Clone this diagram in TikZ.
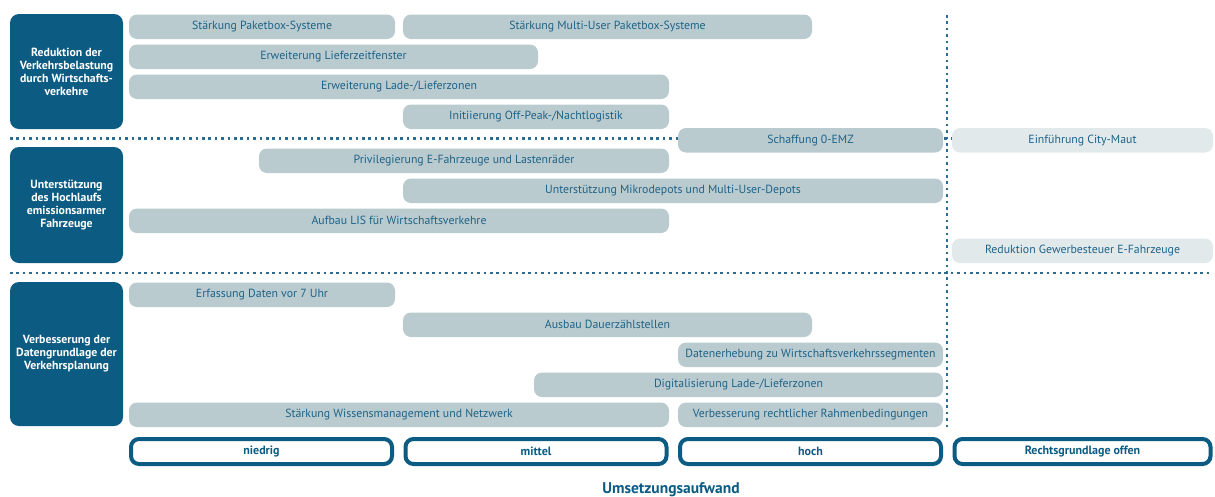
\documentclass[tikz,border=0pt]{standalone}
\usepackage{fontspec}
\setmainfont{PT Sans}
\definecolor{dblue}{HTML}{0B5B82}
\definecolor{bargray}{HTML}{B9CBCF}
\definecolor{barlight}{HTML}{E1E9EB}
\definecolor{bartext}{HTML}{1F6388}
\definecolor{dotc}{HTML}{2D6C91}
\tikzset{
  barbox/.style={fill=bargray, rounded corners=8pt, inner sep=0pt, minimum height=24.5pt, text=bartext, font=\fontsize{11.8}{13}\selectfont},
  lightbox/.style={barbox, fill=barlight},
  catbox/.style={fill=dblue, rounded corners=9pt, inner sep=0pt, minimum width=113pt, text=white, align=center, font=\fontsize{11.8}{13}\selectfont\bfseries},
  levelbox/.style={draw=dblue, line width=4pt, rounded corners=8pt, inner sep=0pt, minimum height=25pt, text=dblue, font=\fontsize{12}{14}\selectfont\bfseries},
  sepline/.style={dotc, line width=2.2pt, dash pattern=on 2.6pt off 3.8pt},
}
\newcommand\mbar[6][barbox]{\node[#1, minimum width={#4-#3}] (#2) at ({(#3+#4)/2},{#5+12.75}) {#6};}
\begin{document}
\begin{tikzpicture}[x=1pt,y=-1pt]
\useasboundingbox (0,0) rectangle (1215,496);
% separator lines
\coordinate (h1a) at (10,138.5); \coordinate (h1b) at (1213,138.5);
\coordinate (h2a) at (10,273); \coordinate (h2b) at (1213,273);
\coordinate (va) at (947,15); \coordinate (vb) at (947,430);
\draw[sepline] (h1a) -- (h1b);
\draw[sepline] (h2a) -- (h2b);
\draw[sepline] (va) -- (vb);
% categories
\node[catbox, minimum height=115pt] (c1) at (66.5,71.5) {Reduktion der\\Verkehrsbelastung\\durch Wirtschafts-\\verkehre};
\node[catbox, minimum height=116pt] (c2) at (66.5,205) {Unterstützung\\des Hochlaufs\\emissionsarmer\\Fahrzeuge};
\node[catbox, minimum height=144pt] (c3) at (66.5,354) {Verbesserung der\\Datengrundlage der\\Verkehrsplanung};
% bars
\mbar{b1}{129}{395}{14}{Stärkung Paketbox-Systeme}
\mbar{b2}{403}{812}{14}{Stärkung Multi-User Paketbox-Systeme}
\mbar{b3}{129}{538}{44}{Erweiterung Lieferzeitfenster}
\mbar{b4}{129}{669}{74}{Erweiterung Lade-/Lieferzonen}
\mbar{b5}{403}{669}{104}{Initiierung Off-Peak-/Nachtlogistik}
\mbar{b6}{678}{943}{127.5}{Schaffung 0-EMZ}
\mbar[lightbox]{b7}{952}{1213}{127.5}{Einführung City-Maut}
\mbar{b8}{259}{669}{148}{Privilegierung E-Fahrzeuge und Lastenräder}
\mbar{b9}{403}{943}{178}{Unterstützung Mikrodepots und Multi-User-Depots}
\mbar{b10}{129}{669}{208}{Aufbau LIS für Wirtschaftsverkehre}
\mbar[lightbox]{b11}{952}{1213}{238}{Reduktion Gewerbesteuer E-Fahrzeuge}
\mbar{b12}{129}{395}{282}{Erfassung Daten vor 7 Uhr}
\mbar{b13}{403}{812}{312}{Ausbau Dauerzählstellen}
\mbar{b14}{678}{943}{342}{Datenerhebung zu Wirtschaftsverkehrssegmenten}
\mbar{b15}{534}{943}{372}{Digitalisierung Lade-/Lieferzonen}
\mbar{b16}{129}{669}{402}{Stärkung Wissensmanagement und Netzwerk}
\mbar{b17}{678}{943}{402}{Verbesserung rechtlicher Rahmenbedingungen}
% levels
\node[levelbox, minimum width=261pt] (l1) at (261.5,451.5) {niedrig};
\node[levelbox, minimum width=261pt] (l2) at (536,451.5) {mittel};
\node[levelbox, minimum width=261pt] (l3) at (810.5,451.5) {hoch};
\node[levelbox, minimum width=256pt] (l4) at (1082.5,451.5) {Rechtsgrundlage offen};
\node[text=dblue, font=\fontsize{15.5}{17}\selectfont\bfseries, inner sep=0pt] (axis) at (671,489.5) {Umsetzungsaufwand};
\end{tikzpicture}
\end{document}
